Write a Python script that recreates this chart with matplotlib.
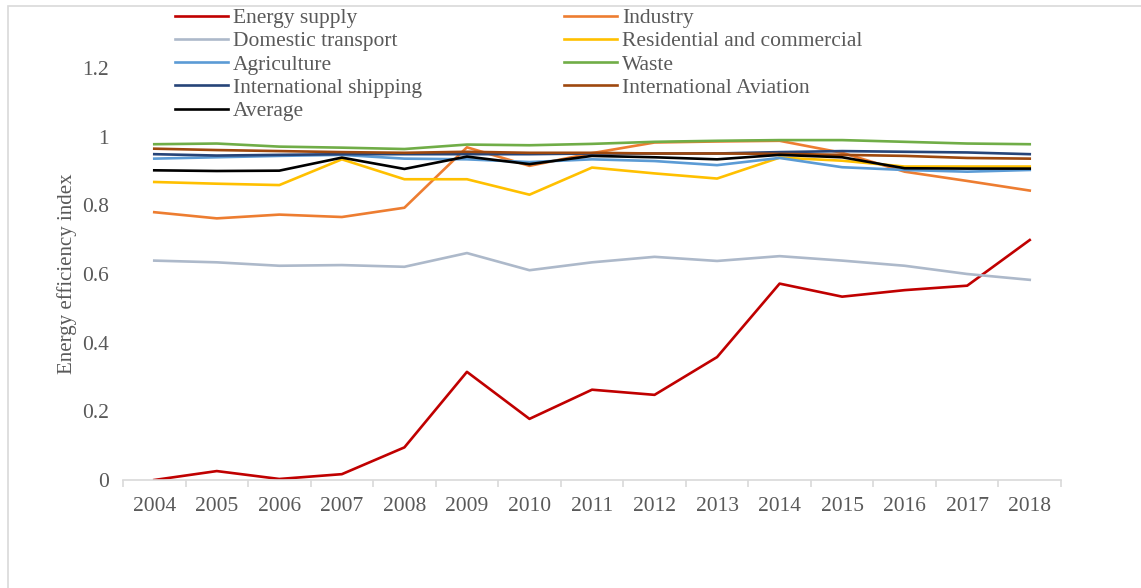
import matplotlib
matplotlib.use("Agg")
import matplotlib.pyplot as plt
from matplotlib.patches import Rectangle

plt.rcParams["font.family"] = ["Liberation Serif", "DejaVu Serif"]

# datos por sector
years = [str(y) for y in range(2004, 2019)]
energy_supply = [0.000, 0.026, 0.003, 0.017, 0.095, 0.315, 0.178, 0.263,
                 0.248, 0.358, 0.572, 0.534, 0.553, 0.566, 0.699]
industry = [0.780, 0.762, 0.773, 0.766, 0.793, 0.969, 0.915, 0.952,
            0.983, 0.986, 0.988, 0.953, 0.898, 0.871, 0.843]
domestic_transport = [0.639, 0.634, 0.624, 0.626, 0.621, 0.661, 0.611, 0.634,
                      0.650, 0.638, 0.652, 0.639, 0.624, 0.600, 0.583]
residential = [0.868, 0.863, 0.859, 0.934, 0.876, 0.876, 0.831, 0.910,
               0.893, 0.878, 0.939, 0.930, 0.913, 0.913, 0.913]
agriculture = [0.936, 0.940, 0.944, 0.947, 0.936, 0.934, 0.926, 0.934,
               0.929, 0.917, 0.938, 0.911, 0.903, 0.898, 0.903]
waste = [0.978, 0.980, 0.971, 0.968, 0.964, 0.977, 0.975, 0.979,
         0.985, 0.988, 0.990, 0.990, 0.985, 0.980, 0.978]
intl_shipping = [0.949, 0.945, 0.947, 0.949, 0.949, 0.949, 0.949, 0.951,
                 0.951, 0.951, 0.955, 0.958, 0.956, 0.954, 0.949]
intl_aviation = [0.965, 0.961, 0.958, 0.955, 0.953, 0.956, 0.953, 0.953,
                 0.951, 0.951, 0.950, 0.947, 0.944, 0.938, 0.936]
average = [0.902, 0.900, 0.901, 0.939, 0.906, 0.942, 0.920, 0.944,
           0.940, 0.934, 0.947, 0.940, 0.908, 0.907, 0.907]

series = [
    ("Energy supply", energy_supply, "#C00000"),
    ("Industry", industry, "#ED7D31"),
    ("Domestic transport", domestic_transport, "#ADB9CA"),
    ("Residential and commercial", residential, "#FFC000"),
    ("Agriculture", agriculture, "#5B9BD5"),
    ("Waste", waste, "#70AD47"),
    ("International shipping", intl_shipping, "#264478"),
    ("International Aviation", intl_aviation, "#9E480E"),
    ("Average", average, "#000000"),
]

gris = "#595959"
fig = plt.figure(figsize=(11.41, 5.88), dpi=100)
ax = fig.add_axes([123 / 1141, 1 - 480 / 588, (1061 - 123) / 1141, 412 / 588])

x = list(range(len(years)))
lineas = {}
for nombre, vals, color in series:
    lineas[nombre], = ax.plot(x, vals, color=color, lw=1.9, label=nombre,
                              solid_joinstyle="round")

ax.set_xlim(-0.5, len(years) - 0.5)
ax.set_ylim(0, 1.2)
ax.set_yticks([0, 0.2, 0.4, 0.6, 0.8, 1, 1.2])
ax.set_yticklabels(["0", "0.2", "0.4", "0.6", "0.8", "1", "1.2"])
ax.set_xticks(x)
ax.set_xticklabels(years)
ax.set_xticks([i - 0.5 for i in range(len(years) + 1)], minor=True)

for s in ["top", "right", "left"]:
    ax.spines[s].set_visible(False)
ax.spines["bottom"].set_color("#D9D9D9")
ax.spines["bottom"].set_linewidth(1.2)

ax.tick_params(axis="y", length=0, pad=10, labelsize=15.5, labelcolor=gris)
ax.tick_params(axis="x", which="major", length=0, pad=12, labelsize=15.5,
               labelcolor=gris)
ax.tick_params(axis="x", which="minor", length=5, width=1.2, color="#D9D9D9")

ax.set_ylabel("Energy efficiency index", fontsize=15, color=gris, labelpad=4)

# leyenda en dos columnas, orden por filas
orden = ["Energy supply", "Domestic transport", "Agriculture",
         "International shipping", "Average",
         "Industry", "Residential and commercial", "Waste",
         "International Aviation"]
leg = fig.legend([lineas[n] for n in orden], orden, ncol=2, frameon=False,
                 loc="upper left", bbox_to_anchor=(175 / 1141, 1 - 8 / 588),
                 fontsize=15.5, handlelength=2.45, handletextpad=0.25,
                 labelspacing=0.15, columnspacing=6.6, borderpad=0,
                 borderaxespad=0)
for t in leg.get_texts():
    t.set_color(gris)

# marco exterior del grafico
fig.patches.append(Rectangle((7.5 / 1141, -0.1), 1.2, 1.1 - 5.5 / 588,
                             transform=fig.transFigure, fill=False,
                             edgecolor="#D9D9D9", lw=1.2))

fig.savefig("out.png", dpi=100)
